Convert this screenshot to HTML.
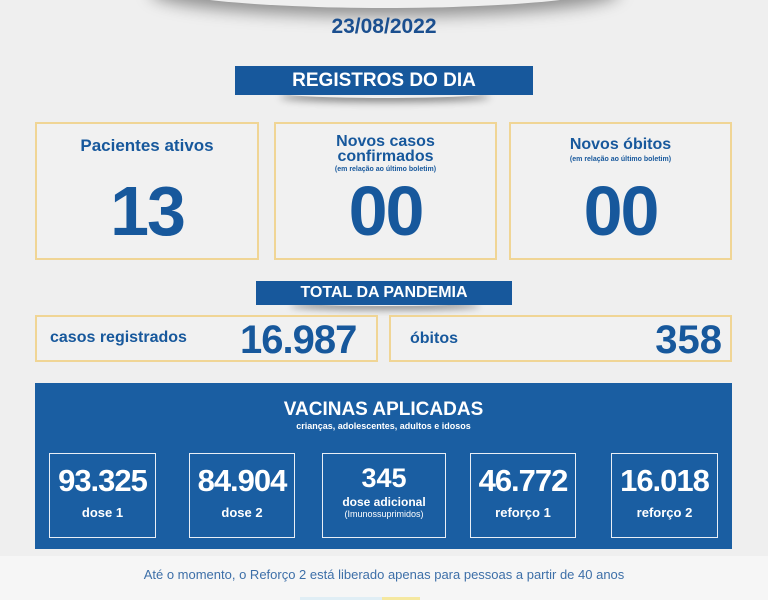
<!DOCTYPE html>
<html><head><meta charset="utf-8"><style>
*{margin:0;padding:0;box-sizing:border-box}
body{width:768px;height:600px;overflow:hidden;background:#efefef;font-family:"Liberation Sans",sans-serif;position:relative;color:#17589c}
.a{position:absolute}
.c{text-align:center}
.b{font-weight:bold}
.ban{background:#17589c;color:#fff;font-weight:bold;text-align:center}
.card{border:2px solid #f0d595;background:#f1f1f1}
.vb{border:1.5px solid #e8eef6;color:#fff;text-align:center}
.big{font-size:70px;line-height:70px;letter-spacing:-2px}
.vn{font-size:31px;margin-top:9px;letter-spacing:-1px}
</style></head><body>
<div class="a" style="left:150px;top:-40px;width:470px;height:48px;border-radius:50%;box-shadow:0 8px 16px rgba(0,0,0,.4);background:#efefef"></div>
<div class="a c b" style="left:0;width:768px;top:15px;font-size:21px;color:#1b4f8f">23/08/2022</div>
<div class="a" style="left:280px;top:88px;width:210px;height:10px;border-radius:50%;box-shadow:0 4px 8px rgba(0,0,0,.45)"></div>
<div class="a ban" style="left:235px;top:66px;width:298px;height:29px;line-height:29px;font-size:19px">REGISTROS DO DIA</div>

<div class="a card" style="left:35px;top:122px;width:224px;height:138px"></div>
<div class="a c b" style="left:35px;width:224px;top:136px;font-size:17px">Pacientes ativos</div>
<div class="a c b big" style="left:35px;width:224px;top:176px">13</div>

<div class="a card" style="left:274px;top:122px;width:223px;height:138px"></div>
<div class="a c b" style="left:274px;width:223px;top:134px;font-size:16px;line-height:15px">Novos casos<br>confirmados</div>
<div class="a c b" style="left:274px;width:223px;top:166px;font-size:7px">(em relação ao último boletim)</div>
<div class="a c b big" style="left:274px;width:223px;top:176px">00</div>

<div class="a card" style="left:509px;top:122px;width:223px;height:138px"></div>
<div class="a c b" style="left:509px;width:223px;top:136px;font-size:16px">Novos óbitos</div>
<div class="a c b" style="left:509px;width:223px;top:156px;font-size:7px">(em relação ao último boletim)</div>
<div class="a c b big" style="left:509px;width:223px;top:176px">00</div>

<div class="a" style="left:290px;top:298px;width:190px;height:8px;border-radius:50%;box-shadow:0 4px 7px rgba(0,0,0,.4)"></div>
<div class="a ban" style="left:256px;top:281px;width:256px;height:24px;line-height:24px;font-size:16px">TOTAL DA PANDEMIA</div>

<div class="a card" style="left:35px;top:315px;width:343px;height:47px"></div>
<div class="a b" style="left:50px;top:329px;font-size:16px">casos registrados</div>
<div class="a b" style="left:240px;top:317px;font-size:40px;line-height:46px;letter-spacing:-1px">16.987</div>
<div class="a card" style="left:389px;top:315px;width:343px;height:47px"></div>
<div class="a b" style="left:410px;top:330px;font-size:16px">óbitos</div>
<div class="a b" style="left:580px;width:142px;text-align:right;top:317px;font-size:40px;line-height:46px">358</div>

<div class="a" style="left:35px;top:383px;width:697px;height:166px;background:#1a5ea2"></div>
<div class="a c b" style="left:35px;width:697px;top:399px;font-size:19px;color:#fff">VACINAS APLICADAS</div>
<div class="a c b" style="left:35px;width:697px;top:421px;font-size:9px;color:#fff">crianças, adolescentes, adultos e idosos</div>

<div class="a vb" style="left:49px;top:453px;width:107px;height:85px"><div class="b vn">93.325</div><div class="b" style="font-size:13px;margin-top:6px">dose 1</div></div>
<div class="a vb" style="left:189px;top:453px;width:106px;height:85px"><div class="b vn">84.904</div><div class="b" style="font-size:13px;margin-top:6px">dose 2</div></div>
<div class="a vb" style="left:322px;top:453px;width:124px;height:85px"><div class="b" style="font-size:27px;margin-top:9px">345</div><div class="b" style="font-size:12px;margin-top:1px">dose adicional</div><div style="font-size:9px">(Imunossuprimidos)</div></div>
<div class="a vb" style="left:470px;top:453px;width:106px;height:85px"><div class="b vn">46.772</div><div class="b" style="font-size:13px;margin-top:6px">reforço 1</div></div>
<div class="a vb" style="left:611px;top:453px;width:107px;height:85px"><div class="b vn">16.018</div><div class="b" style="font-size:13px;margin-top:6px">reforço 2</div></div>

<div class="a" style="left:0;top:556px;width:768px;height:44px;background:#f6f6f6"></div>
<div class="a c" style="left:0;width:768px;top:567px;font-size:13px;color:#3d6fa8">Até o momento, o Reforço 2 está liberado apenas para pessoas a partir de 40 anos</div>
<div class="a" style="left:300px;top:597px;width:82px;height:3px;background:#e0eef5"></div>
<div class="a" style="left:382px;top:597px;width:38px;height:3px;background:#f5e8a0"></div>
</body></html>
